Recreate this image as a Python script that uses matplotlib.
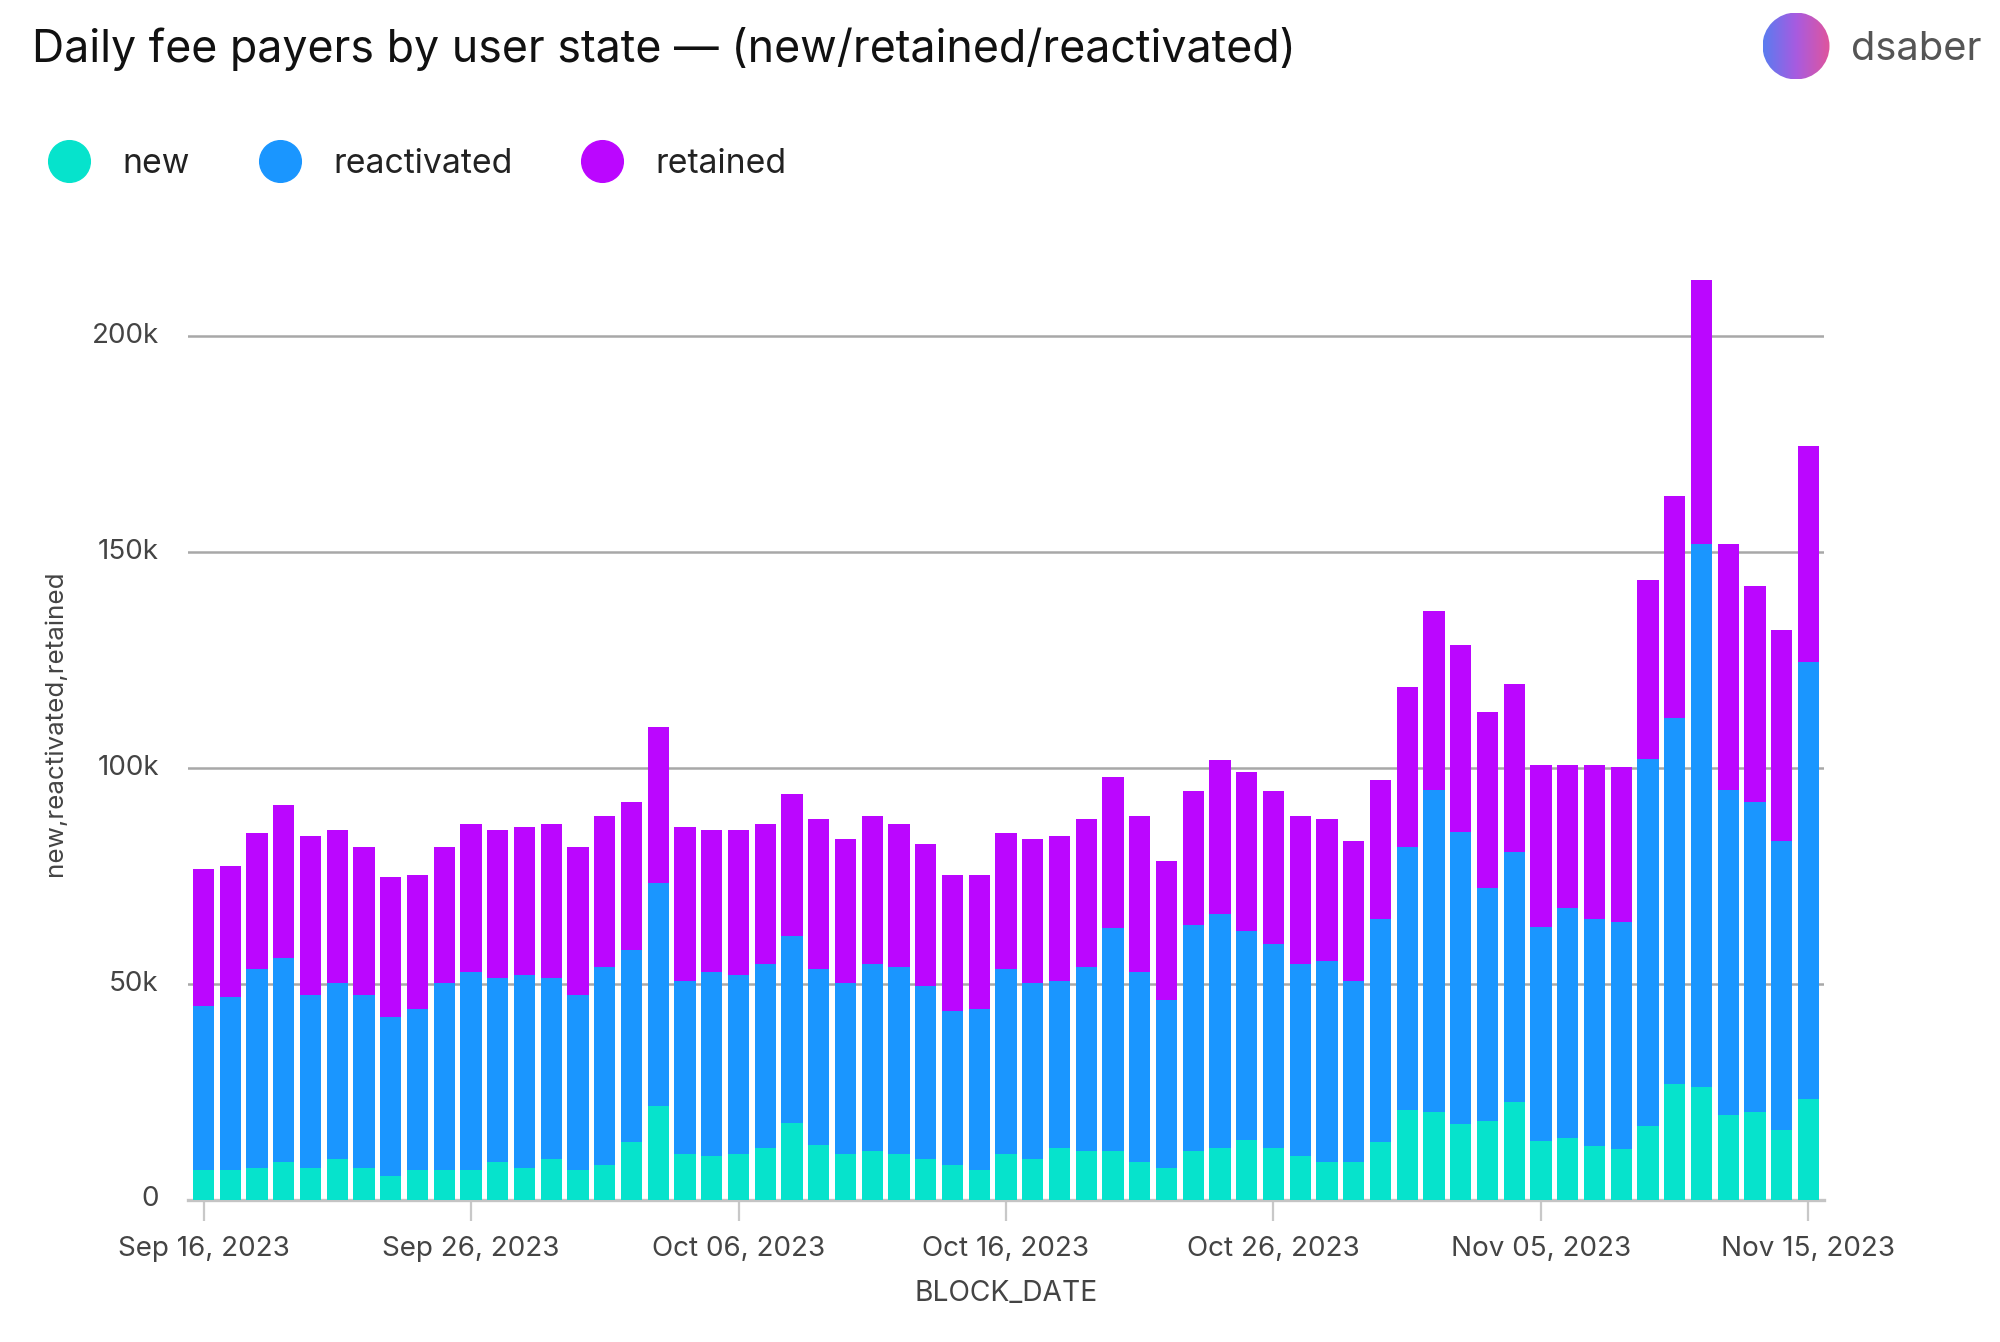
import numpy as np
import pandas as pd
import matplotlib
matplotlib.use("Agg")
import matplotlib.pyplot as plt
import matplotlib.dates as mdates
from matplotlib.lines import Line2D
from matplotlib.patches import Circle
from matplotlib.transforms import ScaledTranslation

plt.rcParams['font.family'] = ['Inter', 'DejaVu Sans']

# daily values, thousands of fee payers
new = [6.9, 6.9, 7.5, 8.9, 7.5, 9.5, 7.5, 5.6, 6.9, 6.9,
       6.9, 8.9, 7.5, 9.5, 6.9, 8.2, 13.4, 21.7, 10.7, 10.1,
       10.7, 12.1, 17.8, 12.7, 10.7, 11.4, 10.7, 9.5, 8.2, 6.9,
       10.7, 9.5, 12.1, 11.4, 11.4, 8.9, 7.5, 11.4, 12.1, 14.0,
       12.1, 10.1, 8.9, 8.9, 13.4, 20.9, 20.3, 17.7, 18.3, 22.8,
       13.7, 14.4, 12.4, 11.8, 17.1, 26.8, 26.2, 19.6, 20.3, 16.3,
       23.4]
reactivated = [38.1, 40.0, 45.9, 47.1, 40.0, 40.7, 40.0, 36.8, 37.4, 43.3,
               45.8, 42.5, 44.6, 41.9, 40.6, 45.8, 44.5, 51.7, 40.1, 42.6,
               41.4, 42.5, 43.4, 40.7, 39.5, 43.2, 43.3, 40.0, 35.5, 37.4,
               42.7, 40.7, 38.7, 42.6, 51.7, 43.8, 38.8, 52.3, 54.2, 48.4,
               47.1, 44.5, 46.5, 41.9, 51.6, 60.9, 74.6, 67.5, 54.0, 57.7,
               49.5, 53.2, 52.7, 52.6, 85.0, 84.9, 125.8, 75.3, 71.9, 66.8,
               101.3]
retained = [31.6, 30.4, 31.6, 35.5, 36.9, 35.5, 34.3, 32.3, 31.0, 31.6,
            34.3, 34.3, 34.2, 35.6, 34.3, 34.9, 34.3, 36.2, 35.5, 33.0,
            33.6, 32.4, 32.9, 34.8, 33.5, 34.3, 33.0, 33.0, 31.6, 31.0,
            31.6, 33.5, 33.6, 34.2, 34.9, 36.2, 32.2, 31.0, 35.6, 36.8,
            35.5, 34.3, 32.8, 32.3, 32.3, 37.0, 41.5, 43.4, 40.8, 39.0,
            37.6, 33.2, 35.7, 35.8, 41.5, 51.3, 61.1, 57.1, 50.1, 48.8,
            50.0]
dates = pd.date_range('2023-09-16', periods=len(new))
y_ticks = [0, 50, 100, 150, 200]
y_tick_labels = ['0', '50k', '100k', '150k', '200k']
series_names = ['new', 'reactivated', 'retained']
series_colors = ['#06E3CC', '#1A96FF', '#BB06FF']

W, H = 2000, 1342
fig = plt.figure(figsize=(W / 100, H / 100), dpi=100)
# axes box in pixels: left 188, right 1824, top 247, bottom 1200
ax = fig.add_axes([188 / W, 1 - 1200 / H, (1824 - 188) / W, (1200 - 247) / H])

bottom = np.zeros(len(new))
for values, name, color in zip([new, reactivated, retained], series_names, series_colors):
    ax.bar(dates, values, width=0.795, bottom=bottom, color=color, label=name, zorder=3)
    bottom += np.array(values)

first = mdates.date2num(dates[0])
ax.set_xlim(first - 0.58, first + 60.58)
ax.set_ylim(0, 220.7)

ax.set_yticks(y_ticks)
ax.set_yticklabels(y_tick_labels)
ax.set_xticks(dates[::10])
ax.xaxis.set_major_formatter(mdates.DateFormatter('%b %d, %Y'))

ax.grid(axis='y', color='#a8a8a8', linewidth=1.8, zorder=0)
ax.set_axisbelow(True)
for side in ['top', 'right', 'left']:
    ax.spines[side].set_visible(False)
ax.spines['bottom'].set_color('#c4c4c4')
ax.spines['bottom'].set_linewidth(2.4)
ax.tick_params(axis='y', length=0, pad=21, labelsize=20, labelcolor='#444444')
ax.tick_params(axis='x', length=15, width=1.6, color='#c8c8c8', pad=11.2,
               labelsize=20, labelcolor='#444444')
ax.set_xlabel('BLOCK_DATE', fontsize=20.3, color='#444444', labelpad=13)
ax.set_ylabel('new,reactivated,retained', fontsize=18.7, color='#444444')
ax.yaxis.set_label_coords((67 - 188) / (1824 - 188), 0.5)

# y labels sit a little above their gridlines in the original
for label in ax.get_yticklabels():
    label.set_transform(label.get_transform() + ScaledTranslation(0, 3.5 / 100, fig.dpi_scale_trans))

fig.text(32 / W, 1 - 49 / H, 'Daily fee payers by user state \u2014 (new/retained/reactivated)',
         fontsize=32.2, color='#111111', va='center', ha='left')

# legend
handles = [Line2D([], [], linestyle='none', marker='o', markersize=30, color=c, label=n)
           for n, c in zip(series_names, series_colors)]
fig.legend(handles=handles, loc='center left', bbox_to_anchor=(49 / W, 1 - 164 / H),
           ncols=3, frameon=False, fontsize=24.3, handlelength=1.2, handletextpad=0.98,
           columnspacing=2.06, borderpad=0, borderaxespad=0, labelcolor='#222222')

# avatar and name, top right
cx, cy, r = 1796, 46, 33.5
av = fig.add_axes([(cx - r) / W, 1 - (cy + r) / H, 2 * r / W, 2 * r / H])
gradient = np.linspace(0, 1, 256).reshape(1, -1)
cmap = matplotlib.colors.LinearSegmentedColormap.from_list('avatar', ['#5A7CF0', '#A85BE0', '#E0559C'])
im = av.imshow(gradient, cmap=cmap, extent=(-1, 1, -1, 1), aspect='auto')
im.set_clip_path(Circle((0, 0), 1, transform=av.transData))
av.axis('off')
fig.text(1851 / W, 1 - 50 / H, 'dsaber', fontsize=28.7, color='#555555', va='center', ha='left')

fig.savefig('out.png', dpi=100)
